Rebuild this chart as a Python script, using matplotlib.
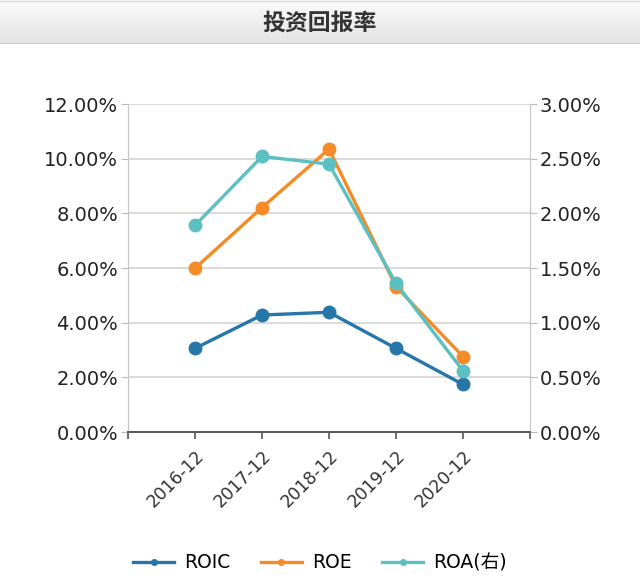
import matplotlib
matplotlib.use("Agg")
import matplotlib.pyplot as plt
import numpy as np
from matplotlib.colors import LinearSegmentedColormap
from matplotlib.ticker import FuncFormatter

plt.rcParams['font.family'] = ['DejaVu Sans', 'Noto Sans CJK SC']

# ===== データ
periods = ["2016-12", "2017-12", "2018-12", "2019-12", "2020-12"]
roic = [3.06, 4.28, 4.38, 3.06, 1.74]
roe = [5.99, 8.21, 10.35, 5.32, 2.76]
roa = [1.89, 2.52, 2.45, 1.36, 0.56]  # 右軸

title = "投资回报率"
c_roic = "#2776a8"
c_roe = "#f58b26"
c_roa = "#5cc0c3"


def main():
    fig = plt.figure(figsize=(6.4, 5.85), dpi=100)

    # ===== タイトルバー(グラデーション)
    bar = fig.add_axes([0, 1 - 44 / 585, 1, 44 / 585])
    grad = np.linspace(0, 1, 64).reshape(-1, 1)
    cmap = LinearSegmentedColormap.from_list("g", ["#fbfbfb", "#e3e3e3"])
    bar.imshow(grad, aspect="auto", cmap=cmap, extent=[0, 1, 0, 1], origin="upper")
    bar.set_xlim(0, 1)
    bar.set_ylim(0, 1)
    bar.axis("off")
    bar.axhline(0.01, color="#c4c4c4", lw=1.2)
    bar.axhline(0.985, color="#dcdcdc", lw=1)
    bar.text(0.5, 0.47, title, ha="center", va="center", fontsize=16.5,
             fontweight="bold", color="#333333", family=["Noto Sans CJK SC"])

    # ===== メイン軸
    ax = fig.add_axes([128 / 640, 153 / 585, 402 / 640, 328 / 585])
    x = np.arange(len(periods))
    ax.plot(x, roic, color=c_roic, lw=2.4, marker="o", ms=9, label="ROIC", zorder=3)
    ax.plot(x, roe, color=c_roe, lw=2.4, marker="o", ms=9, label="ROE", zorder=3)

    ax2 = ax.twinx()
    ax2.plot(x, roa, color=c_roa, lw=2.4, marker="o", ms=9, label="ROA(右)", zorder=3)

    ax.set_xlim(-1, len(periods))
    ax.set_ylim(0, 12)
    ax2.set_ylim(0, 3)
    ax.set_yticks(np.arange(0, 12.1, 2))
    ax2.set_yticks(np.arange(0, 3.01, 0.5))
    ax.yaxis.set_major_formatter(FuncFormatter(lambda v, p: f"{v:.2f}%"))
    ax2.yaxis.set_major_formatter(FuncFormatter(lambda v, p: f"{v:.2f}%"))

    ax.set_xticks(np.arange(-1, len(periods) + 1))
    ax.set_xticklabels([""] + periods + [""], rotation=45, ha="right",
                       rotation_mode="anchor", fontsize=12.5, color="#333333")
    ax.tick_params(axis="x", length=5, width=1.2, color="#555555", pad=6)
    ax.tick_params(axis="y", length=5, color="#bbbbbb", labelsize=14,
                   labelcolor="#222222", pad=2)
    ax2.tick_params(axis="y", length=5, color="#bbbbbb", labelsize=14,
                    labelcolor="#222222", pad=2)

    ax.grid(axis="y", color="#d8d8d8", lw=1.3)
    ax.set_axisbelow(True)
    for a in (ax, ax2):
        a.spines["top"].set_visible(False)
        a.spines["left"].set_color("#c8c8c8")
        a.spines["right"].set_color("#c8c8c8")
        a.spines["bottom"].set_color("#555555")
        a.spines["bottom"].set_linewidth(1.2)

    # ===== 凡例
    handles = ax.get_lines()[:2] + ax2.get_lines()
    fig.legend(handles, [h.get_label() for h in handles], loc="center",
               bbox_to_anchor=(0.5, 1 - 563 / 585), ncol=3, frameon=False,
               markerscale=0.45, handlelength=2.2,
               columnspacing=1.6, handletextpad=0.55,
               prop={"family": ["DejaVu Sans", "Noto Sans CJK SC"], "size": 13.5})

    fig.savefig("out.png", dpi=100, facecolor="white")


if __name__ == "__main__":
    main()
